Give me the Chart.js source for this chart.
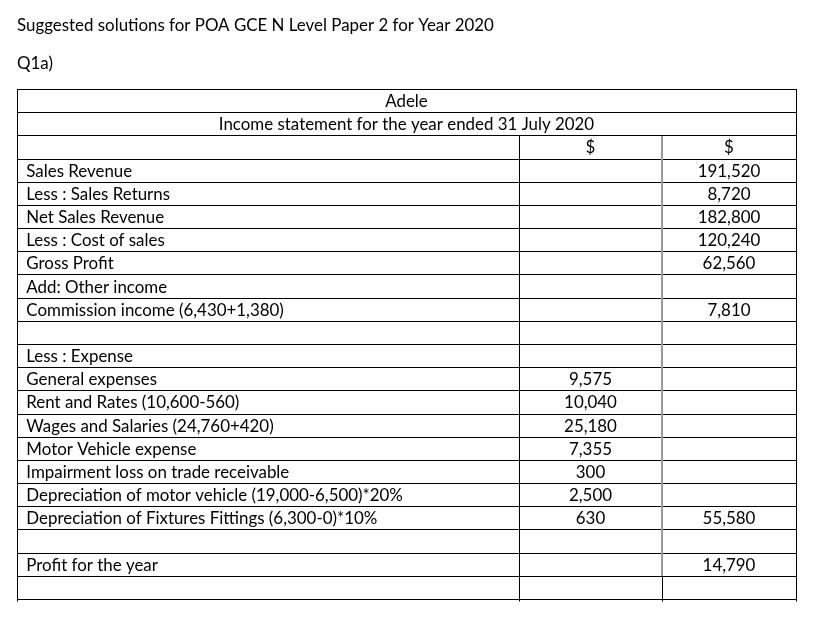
<!DOCTYPE html>
<html>
<head>
<meta charset="utf-8">
<script src="https://cdn.jsdelivr.net/npm/chart.js@4.4.1/dist/chart.umd.min.js"></script>
<style>
  html, body { margin: 0; padding: 0; background: #ffffff; }
  #wrap { width: 834px; height: 627px; }
</style>
</head>
<body>
<div id="wrap"><canvas id="c" width="834" height="627"></canvas></div>
<script>
// ---------------- data ----------------
const pageTitle = 'Suggested solutions for POA GCE N Level Paper 2 for Year 2020';
const questionLabel = 'Q1a)';
const businessName = 'Adele';
const statementTitle = 'Income statement for the year ended 31 July 2020';
const columnHeaders = ['', '$', '$'];

const itemLabels = [
  'Sales Revenue',
  'Less : Sales Returns',
  'Net Sales Revenue',
  'Less : Cost of sales',
  'Gross Profit',
  'Add: Other income',
  'Commission income (6,430+1,380)',
  '',
  'Less : Expense',
  'General expenses',
  'Rent and Rates (10,600-560)',
  'Wages and Salaries (24,760+420)',
  'Motor Vehicle expense',
  'Impairment loss on trade receivable',
  'Depreciation of motor vehicle (19,000-6,500)*20%',
  'Depreciation of Fixtures Fittings (6,300-0)*10%',
  '',
  'Profit for the year',
  ''
];
const detailAmounts = [null, null, null, null, null, null, null, null, null,
  9575, 10040, 25180, 7355, 300, 2500, 630, null, null, null];
const totalAmounts = [191520, 8720, 182800, 120240, 62560, null, 7810, null, null,
  null, null, null, null, null, null, 55580, null, 14790, null];

// ---------------- layout / style ----------------
const FONT_FAMILY = 'Lato, "Open Sans", sans-serif';
const TABLE_WIDTH_UNITS = 779;
const columnEdges = [0, 502, 645, 779];
const rowKeys = ['business', 'statement', 'currency'].concat(itemLabels.map((_, i) => 'item' + i));
const HEADER_ROWS = 3;

const fmt = v => (v === null || v === undefined) ? '' : v.toLocaleString('en-US');

const tablePlugin = {
  id: 'incomeTable',
  afterDraw(chart) {
    const ctx = chart.ctx;
    const x = chart.scales.x, y = chart.scales.y;
    const nRows = rowKeys.length;
    const band = Math.abs(y.getPixelForValue(1) - y.getPixelForValue(0));
    const mid = i => y.getPixelForValue(i);
    const edge = i => mid(Math.min(i, nRows - 1)) + (i < nRows ? -band / 2 : band / 2);
    const crisp = v => Math.round(v) + 0.5;
    const cx = columnEdges.map(v => x.getPixelForValue(v));

    ctx.save();
    ctx.font = '100px ' + FONT_FAMILY;
    const refW = ctx.measureText(itemLabels[14]).width;
    const size = 100 * 376.7 / refW;
    const font = size.toFixed(2) + 'px ' + FONT_FAMILY;
    ctx.font = font;
    const capH = ctx.measureText('H').actualBoundingBoxAscent || size * 0.72;
    const baseOff = capH / 2;

    ctx.fillStyle = '#000000';
    ctx.textBaseline = 'alphabetic';

    // page heading
    ctx.textAlign = 'left';
    ctx.fillText(pageTitle, cx[0], 31);
    ctx.fillText(questionLabel, cx[0], 69);

    // horizontal lines
    ctx.strokeStyle = '#000000';
    ctx.lineWidth = 1;
    ctx.beginPath();
    for (let i = 0; i <= nRows; i++) {
      const yy = crisp(edge(i));
      ctx.moveTo(crisp(cx[0]) - 0.5, yy);
      ctx.lineTo(crisp(cx[3]) + 0.5, yy);
    }
    ctx.stroke();

    // outer verticals + first divider
    const topY = crisp(edge(0)) - 0.5;
    const bodyTop = crisp(edge(2));
    const botY = crisp(edge(nRows)) + 2;
    ctx.beginPath();
    ctx.moveTo(crisp(cx[0]), topY); ctx.lineTo(crisp(cx[0]), botY);
    ctx.moveTo(crisp(cx[3]), topY); ctx.lineTo(crisp(cx[3]), botY);
    ctx.moveTo(crisp(cx[1]), bodyTop); ctx.lineTo(crisp(cx[1]), botY);
    ctx.moveTo(crisp(cx[2]), crisp(edge(nRows - 1))); ctx.lineTo(crisp(cx[2]), botY);
    ctx.stroke();

    // second divider: grey, thicker
    ctx.strokeStyle = '#9a9a9a';
    ctx.lineWidth = 2;
    ctx.beginPath();
    ctx.moveTo(Math.round(cx[2]), bodyTop + 0.5);
    ctx.lineTo(Math.round(cx[2]), crisp(edge(nRows - 1)) - 0.5);
    ctx.stroke();

    // merged header rows
    ctx.fillStyle = '#000000';
    ctx.textAlign = 'center';
    const tableMid = (cx[0] + cx[3]) / 2;
    ctx.fillText(businessName, tableMid, mid(0) + baseOff);
    ctx.fillText(statementTitle, tableMid, mid(1) + baseOff);

    // currency header row
    const c1 = (cx[1] + cx[2]) / 2, c2 = (cx[2] + cx[3]) / 2;
    ctx.fillText(columnHeaders[1], c1, mid(2) + baseOff);
    ctx.fillText(columnHeaders[2], c2, mid(2) + baseOff);

    // body rows
    for (let r = 0; r < itemLabels.length; r++) {
      const yy = mid(r + HEADER_ROWS) + baseOff;
      ctx.textAlign = 'left';
      ctx.fillText(itemLabels[r], cx[0] + 9.3, yy);
      ctx.textAlign = 'center';
      ctx.fillText(fmt(detailAmounts[r]), c1, yy);
      ctx.fillText(fmt(totalAmounts[r]), c2, yy);
    }
    ctx.restore();
  }
};

new Chart(document.getElementById('c'), {
  type: 'bar',
  data: { labels: rowKeys, datasets: [] },
  options: {
    indexAxis: 'y',
    responsive: false,
    devicePixelRatio: 1,
    animation: false,
    layout: { padding: { left: 17, right: 38, top: 89, bottom: 28 } },
    plugins: { legend: { display: false }, tooltip: { enabled: false }, title: { display: false } },
    scales: {
      x: { type: 'linear', min: 0, max: TABLE_WIDTH_UNITS, offset: false, display: false },
      y: { type: 'category', labels: rowKeys, offset: true, display: false }
    }
  },
  plugins: [tablePlugin]
});
</script>
</body>
</html>
